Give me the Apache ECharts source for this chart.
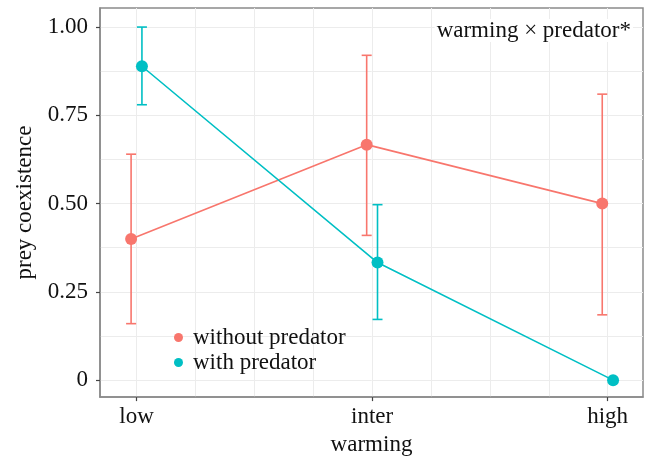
<!DOCTYPE html>
<html>
<head>
<meta charset="utf-8">
<script src="https://cdn.jsdelivr.net/npm/echarts@6/dist/echarts.min.js"></script>
<style>
  html, body { margin: 0; padding: 0; background: #fff; }
  #main { width: 651px; height: 461px; }
</style>
</head>
<body>
<div id="main"></div>
<script>
// 数据
const categories = ['low', 'inter', 'high'];
const withoutMean = [0.40, 0.667, 0.50];
const withoutLow = [0.16, 0.41, 0.185];
const withoutHigh = [0.64, 0.92, 0.81];
const withMean = [0.889, 0.333, 0];
const withLow = [0.78, 0.172, 0];
const withHigh = [1.0, 0.497, 0];
const yTicks = [0, 0.25, 0.5, 0.75, 1];
const xTicks = [1, 2, 3];
const yGrid = [0, 0.125, 0.25, 0.375, 0.5, 0.625, 0.75, 0.875, 1];
const xGrid = [1, 1.25, 1.5, 1.75, 2, 2.25, 2.5, 2.75, 3];

const dodge = 0.023;
const red = '#F8766D';
const cyan = '#00BFC4';
const font = '"Liberation Serif", "DejaVu Serif", serif';
const textStyle = { fontFamily: font, fontSize: 23, color: '#111' };

function points(means, shift) {
    return means.map((v, i) => [i + 1 + shift, v]);
}
function bars(lows, highs, shift) {
    return lows.map((v, i) => [i + 1 + shift, v, highs[i]]);
}

// 误差线
function errorBar(color) {
    return function(params, api) {
        const lo = api.value(1), hi = api.value(2);
        if (lo === hi) return null;
        const p1 = api.coord([api.value(0), lo]);
        const p2 = api.coord([api.value(0), hi]);
        const w = 5;
        const style = { stroke: color, lineWidth: 1.6 };
        return {
            type: 'group',
            children: [
                { type: 'line', shape: { x1: p1[0], y1: p1[1], x2: p2[0], y2: p2[1] }, style: style },
                { type: 'line', shape: { x1: p1[0] - w, y1: p1[1], x2: p1[0] + w, y2: p1[1] }, style: style },
                { type: 'line', shape: { x1: p2[0] - w, y1: p2[1], x2: p2[0] + w, y2: p2[1] }, style: style }
            ]
        };
    };
}

const chart = echarts.init(document.getElementById('main'));

const xRange = { min: 0.845, max: 3.15 };
const yRange = { min: -0.048, max: 1.054 };
const axisLineStyle = { show: true, onZero: false, lineStyle: { color: '#8a8a8a', width: 1.5 } };

const option = {
    animation: false,
    grid: {
        left: 100, right: 8, top: 8, bottom: 63,
        show: true, borderColor: '#8a8a8a', borderWidth: 1.5, backgroundColor: 'transparent'
    },
    xAxis: [{
        type: 'value', min: xRange.min, max: xRange.max,
        axisLine: axisLineStyle,
        splitLine: { show: false },
        axisTick: { show: true, inside: false, customValues: xTicks, length: 4, lineStyle: { color: '#444', width: 1.2 } },
        axisLabel: Object.assign({
            customValues: xTicks, margin: 8,
            formatter: v => categories[Math.round(v) - 1]
        }, textStyle),
        name: 'warming', nameLocation: 'middle', nameGap: 35,
        nameTextStyle: textStyle
    }, {
        // 网格线
        type: 'value', min: xRange.min, max: xRange.max, position: 'bottom',
        axisLine: { show: false, onZero: false }, axisLabel: { show: false },
        axisTick: { show: false, customValues: xGrid },
        splitLine: { show: true, lineStyle: { color: '#ececec', width: 1 } }
    }],
    yAxis: [{
        type: 'value', min: yRange.min, max: yRange.max,
        axisLine: axisLineStyle,
        splitLine: { show: false },
        axisTick: { show: true, inside: false, customValues: yTicks, length: 4, lineStyle: { color: '#444', width: 1.2 } },
        axisLabel: Object.assign({
            customValues: yTicks, margin: 12,
            formatter: v => v === 0 ? '0' : v.toFixed(2)
        }, textStyle),
        name: 'prey coexistence', nameLocation: 'middle', nameGap: 62, nameRotate: 90,
        nameTextStyle: textStyle
    }, {
        type: 'value', min: yRange.min, max: yRange.max, position: 'left',
        axisLine: { show: false, onZero: false }, axisLabel: { show: false },
        axisTick: { show: false, customValues: yGrid },
        splitLine: { show: true, lineStyle: { color: '#ececec', width: 1 } }
    }],
    legend: {
        data: [
            { name: 'without predator', icon: 'circle' },
            { name: 'with predator', icon: 'circle' }
        ],
        orient: 'vertical', left: 174, top: 326, padding: 0,
        itemWidth: 9, itemHeight: 9, itemGap: 2,
        textStyle: Object.assign({ padding: [0, 0, 0, 5] }, textStyle)
    },
    graphic: [{
        type: 'text', right: 18, top: 19, z: 10,
        style: {
            text: 'warming × predator*', font: '23px ' + font, fill: '#111',
            backgroundColor: '#fff', padding: [0, 2]
        }
    }],
    series: [
        {
            name: 'without predator', type: 'custom', z: 3,
            renderItem: errorBar(red),
            itemStyle: { color: red },
            data: bars(withoutLow, withoutHigh, -dodge)
        },
        {
            name: 'with predator', type: 'custom', z: 3,
            renderItem: errorBar(cyan),
            itemStyle: { color: cyan },
            data: bars(withLow, withHigh, dodge)
        },
        {
            name: 'without predator', type: 'line', z: 4,
            data: points(withoutMean, -dodge),
            symbol: 'circle', symbolSize: 12,
            lineStyle: { color: red, width: 1.6 },
            itemStyle: { color: red }
        },
        {
            name: 'with predator', type: 'line', z: 4,
            data: points(withMean, dodge),
            symbol: 'circle', symbolSize: 12,
            lineStyle: { color: cyan, width: 1.6 },
            itemStyle: { color: cyan }
        }
    ]
};

chart.setOption(option);
</script>
</body>
</html>
